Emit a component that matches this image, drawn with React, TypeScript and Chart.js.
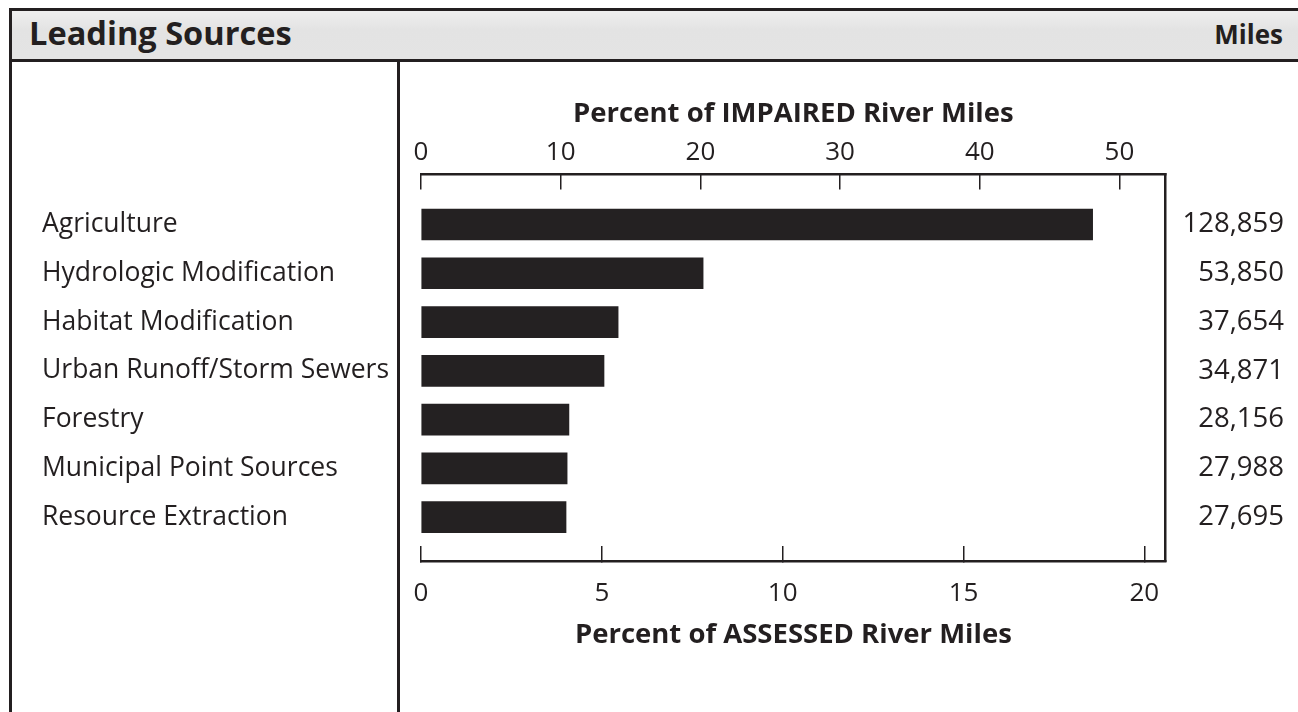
import React, { useEffect, useRef } from "react";
import { Chart, registerables } from "chart.js";

Chart.register(...registerables);

// ---------- data ----------
const categories = [
  "Agriculture",
  "Hydrologic Modification",
  "Habitat Modification",
  "Urban Runoff/Storm Sewers",
  "Forestry",
  "Municipal Point Sources",
  "Resource Extraction",
];
const assessedPercent = [18.57, 7.8, 5.45, 5.06, 4.09, 4.04, 4.01];
const milesLabels = ["128,859", "53,850", "37,654", "34,871", "28,156", "27,988", "27,695"];
const assessedTicks = [0, 5, 10, 15, 20];
const impairedTicks = [0, 10, 20, 30, 40, 50];
const assessedMax = 20.59;
const impairedMax = 53.31;

const headerTitle = "Leading Sources";
const headerUnit = "Miles";
const topAxisTitle = "Percent of IMPAIRED River Miles";
const bottomAxisTitle = "Percent of ASSESSED River Miles";

// ---------- layout / style ----------
const W = 1298;
const H = 712;
const INK = "#231f20";
const FAMILY = "'Open Sans', sans-serif";
const PLOT_LEFT = 421;
const PLOT_RIGHT = 1165.7;
const PLOT_TOP = 174.5;
const PLOT_BOTTOM = 561;
const PAD_LEFT = 42;
const PAD_RIGHT = 14;
const PAD_TOP = 60;
const PAD_BOTTOM = 51;
const Y_MIN = -1.026;
const Y_MAX = 6.9;

const tickFont = { family: FAMILY, size: 26 };
const catFont = { family: FAMILY, size: 26.5 };
const milesFont = { family: FAMILY, size: 27.5 };
const titleFont = { family: FAMILY, size: 27.5, weight: "bold" as const };

function measure(text: string, font: { family: string; size: number }) {
  const ctx = document.createElement("canvas").getContext("2d")!;
  ctx.font = `${font.size}px ${font.family}`;
  return ctx.measureText(text).width;
}

export default function App() {
  const ref = useRef<HTMLCanvasElement>(null);

  useEffect(() => {
    const canvas = ref.current!;
    const leftWidth = PLOT_LEFT - PAD_LEFT;
    const rightWidth = W - PAD_RIGHT - PLOT_RIGHT;
    const widestCat = Math.max(...categories.map((t) => measure(t, catFont)));
    const widestMiles = Math.max(...milesLabels.map((t) => measure(t, milesFont)));

    const chart = new Chart(canvas, {
      type: "bar",
      data: {
        datasets: [
          {
            label: "Percent of assessed river miles",
            data: assessedPercent.map((v, i) => ({ x: v, y: i })),
            backgroundColor: "#242122",
            borderWidth: 0,
            barThickness: 31,
            xAxisID: "x",
            yAxisID: "y",
          },
        ],
      },
      options: {
        indexAxis: "y",
        animation: false,
        responsive: false,
        devicePixelRatio: 1,
        layout: { padding: { left: PAD_LEFT, right: PAD_RIGHT, top: PAD_TOP, bottom: PAD_BOTTOM } },
        plugins: { legend: { display: false }, tooltip: { enabled: false } },
        scales: {
          x: {
            type: "linear",
            position: "bottom",
            min: 0,
            max: assessedMax,
            offset: false,
            afterBuildTicks: (s: any) => {
              s.ticks = assessedTicks.map((v) => ({ value: v }));
            },
            ticks: { padding: 32.4, font: tickFont, color: INK, maxRotation: 0, autoSkip: false },
            grid: { drawOnChartArea: false, tickLength: -15, color: INK, lineWidth: 1.5 },
            border: { display: true, color: INK, width: 2.5 },
            title: {
              display: true,
              text: bottomAxisTitle,
              font: titleFont,
              color: INK,
              padding: { top: 0, bottom: 9 },
            },
            afterFit: (s: any) => {
              s.height = H - PAD_BOTTOM - PLOT_BOTTOM;
            },
          },
          x2: {
            type: "linear",
            position: "top",
            min: 0,
            max: impairedMax,
            offset: false,
            afterBuildTicks: (s: any) => {
              s.ticks = impairedTicks.map((v) => ({ value: v }));
            },
            ticks: { padding: 21, font: tickFont, color: INK, maxRotation: 0, autoSkip: false },
            grid: { drawOnChartArea: false, tickLength: -15, color: INK, lineWidth: 1.5 },
            border: { display: true, color: INK, width: 2.5 },
            title: {
              display: true,
              text: topAxisTitle,
              font: titleFont,
              color: INK,
              padding: { top: 37.5, bottom: 0 },
            },
            afterFit: (s: any) => {
              s.height = PLOT_TOP - PAD_TOP;
            },
          },
          y: {
            type: "linear",
            position: "left",
            reverse: true,
            offset: false,
            min: Y_MIN,
            max: Y_MAX,
            afterBuildTicks: (s: any) => {
              s.ticks = categories.map((_, i) => ({ value: i }));
            },
            ticks: {
              callback: (v: any) => categories[v] ?? "",
              crossAlign: "far",
              padding: leftWidth - widestCat,
              font: catFont,
              color: INK,
              autoSkip: false,
            },
            grid: { display: false, offset: false },
            border: { display: false },
            afterFit: (s: any) => {
              s.width = leftWidth;
            },
          },
          y2: {
            type: "linear",
            position: "right",
            reverse: true,
            offset: false,
            min: Y_MIN,
            max: Y_MAX,
            afterBuildTicks: (s: any) => {
              s.ticks = milesLabels.map((_, i) => ({ value: i }));
            },
            ticks: {
              callback: (v: any) => milesLabels[v] ?? "",
              crossAlign: "far",
              padding: rightWidth - widestMiles,
              font: milesFont,
              color: INK,
              autoSkip: false,
            },
            grid: { display: false, offset: false },
            border: { display: true, color: INK, width: 2.5 },
            afterFit: (s: any) => {
              s.width = rightWidth;
            },
          },
        },
      },
    } as any);

    return () => chart.destroy();
  }, []);

  const line = (left: number, top: number, width: number, height: number) => (
    <div style={{ position: "absolute", left, top, width, height, background: INK }} />
  );

  return (
    <div
      style={{
        position: "fixed",
        left: 0,
        top: 0,
        width: W,
        height: H,
        background: "#fff",
        overflow: "hidden",
        fontFamily: FAMILY,
        color: INK,
      }}
    >
      <canvas
        ref={ref}
        width={W}
        height={H}
        style={{ position: "absolute", left: 0, top: 0, width: W, height: H }}
      />
      <div
        style={{
          position: "absolute",
          left: 10,
          top: 10,
          width: W - 10,
          height: 50,
          background: "linear-gradient(#efefef, #e3e3e3 40%, #e4e4e4)",
        }}
      />
      {line(9, 8, W - 9, 3)}
      {line(9, 59, W - 9, 3)}
      {line(9, 8, 3, H - 8)}
      {line(397, 59, 3, H - 59)}
      <div
        style={{
          position: "absolute",
          left: 29,
          top: 17,
          fontSize: 32.6,
          lineHeight: "32.6px",
          fontWeight: "bold",
          whiteSpace: "nowrap",
        }}
      >
        {headerTitle}
      </div>
      <div
        style={{
          position: "absolute",
          right: 15,
          top: 21,
          fontSize: 26,
          lineHeight: "26px",
          fontWeight: "bold",
          whiteSpace: "nowrap",
        }}
      >
        {headerUnit}
      </div>
    </div>
  );
}
